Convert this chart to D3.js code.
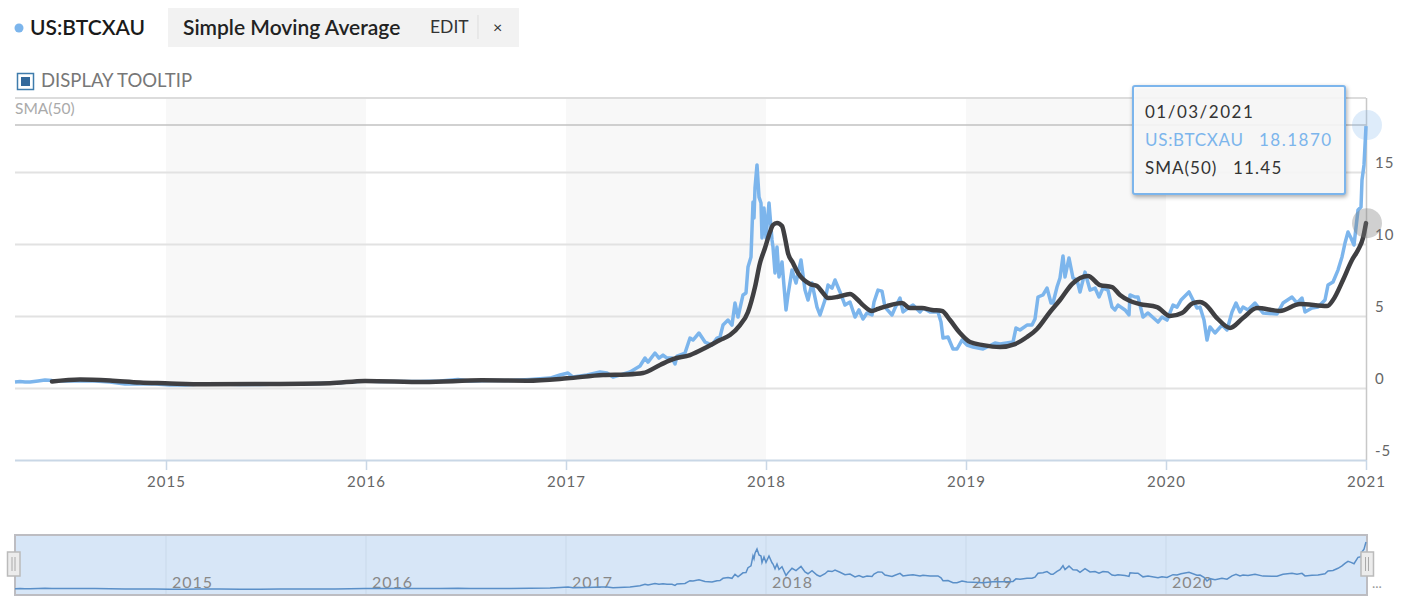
<!DOCTYPE html>
<html>
<head>
<meta charset="utf-8">
<script src="https://cdn.jsdelivr.net/npm/d3@7"></script>
<style>
  html, body { margin: 0; background: #fff; }
  svg { display: block; font-family: Lato, sans-serif; }
</style>
</head>
<body>
<div id="chart"></div>
<script>
// values, x is a decimal year
const priceYears = [2014.245,2014.27,2014.295,2014.32,2014.36,2014.395,2014.43,2014.47,2014.57,2014.645,2014.72,2014.795,2014.87,2014.945,2015.02,2015.095,2015.17,2015.27,2015.37,2015.47,2015.57,2015.67,2015.77,2015.845,2015.92,2015.995,2016.07,2016.17,2016.27,2016.37,2016.46,2016.52,2016.62,2016.72,2016.82,2016.92,2016.97,2017.01,2017.035,2017.105,2017.17,2017.205,2017.235,2017.32,2017.37,2017.395,2017.41,2017.445,2017.465,2017.485,2017.505,2017.53,2017.545,2017.555,2017.595,2017.62,2017.635,2017.665,2017.695,2017.73,2017.755,2017.77,2017.785,2017.81,2017.83,2017.845,2017.86,2017.885,2017.9,2017.91,2017.925,2017.935,2017.94,2017.945,2017.955,2017.965,2017.975,2017.98,2017.99,2018.0,2018.015,2018.03,2018.035,2018.045,2018.055,2018.065,2018.08,2018.1,2018.11,2018.13,2018.15,2018.175,2018.195,2018.21,2018.23,2018.255,2018.27,2018.295,2018.31,2018.33,2018.345,2018.37,2018.395,2018.42,2018.445,2018.465,2018.485,2018.505,2018.53,2018.54,2018.56,2018.58,2018.595,2018.63,2018.645,2018.67,2018.685,2018.71,2018.735,2018.77,2018.785,2018.82,2018.86,2018.875,2018.885,2018.91,2018.935,2018.955,2018.98,2019.005,2019.035,2019.085,2019.145,2019.17,2019.235,2019.25,2019.27,2019.305,2019.33,2019.345,2019.36,2019.385,2019.405,2019.425,2019.435,2019.455,2019.47,2019.485,2019.495,2019.515,2019.535,2019.555,2019.57,2019.595,2019.62,2019.645,2019.665,2019.685,2019.71,2019.73,2019.745,2019.76,2019.795,2019.815,2019.82,2019.845,2019.86,2019.885,2019.91,2019.96,2019.98,2020.005,2020.035,2020.055,2020.075,2020.115,2020.155,2020.17,2020.19,2020.205,2020.22,2020.245,2020.28,2020.305,2020.33,2020.35,2020.37,2020.385,2020.41,2020.445,2020.485,2020.555,2020.585,2020.63,2020.655,2020.68,2020.695,2020.73,2020.76,2020.795,2020.81,2020.835,2020.86,2020.88,2020.895,2020.91,2020.925,2020.94,2020.96,2020.975,2020.98,2020.99,2021.0];
const priceValues = [.42,.45,.42,.42,.49,.56,.52,.49,.49,.49,.42,.28,.28,.28,.21,.21,.28,.28,.24,.24,.28,.28,.31,.35,.42,.49,.45,.45,.45,.49,.59,.49,.52,.52,.59,.69,.9,1.04,.76,.9,1.11,1.04,.76,1.11,1.53,2.08,1.8,2.43,2.08,2.29,2.08,2.08,1.67,2.22,2.43,3.47,3.33,3.82,3.19,2.98,3.47,3.54,4.37,4.72,4.37,5.9,4.93,6.46,6.6,8.4,9.1,12.92,11.81,13.89,15.49,13.26,12.85,10.42,12.5,10.42,12.85,10.28,9.79,7.99,9.79,7.71,8.75,5.42,6.46,8.19,7.29,8.89,6.8,6.11,7.29,5.62,5.07,6.11,7.15,6.94,7.5,6.67,5.76,5.97,4.93,5.42,4.79,5.21,5.07,5.97,6.8,6.73,5.62,5.07,5.55,6.25,5.28,5.55,5.76,5.28,5.55,5.28,5.28,4.58,3.47,3.54,2.71,2.71,3.33,2.98,2.85,2.71,3.12,3.05,3.19,4.17,4.03,4.37,4.37,4.79,6.32,6.46,6.94,5.9,5.9,7.01,7.64,9.17,7.71,9.03,7.64,7.5,6.67,8.05,6.8,6.94,6.32,6.94,6.8,5.62,5.42,5.76,5.42,5.07,6.46,6.32,6.32,4.93,5.21,4.58,4.93,4.72,5.76,5.62,6.11,6.67,5.55,5.62,4.72,3.33,4.24,3.82,4.37,4.03,5.28,5.9,5.28,5.62,5.42,5.9,5.21,5.14,5.9,6.32,5.9,6.25,5.28,5.55,5.62,6.11,7.15,7.36,8.19,9.1,10.07,10.83,10.42,9.93,12.36,12.57,14.44,15.49,18.19];

const smaYears = [2014.43,2014.57,2014.72,2014.87,2014.995,2015.195,2015.51,2015.82,2015.995,2016.29,2016.58,2016.805,2017.005,2017.185,2017.305,2017.385,2017.47,2017.535,2017.62,2017.705,2017.77,2017.82,2017.87,2017.91,2017.945,2017.97,2017.995,2018.02,2018.035,2018.055,2018.08,2018.095,2018.11,2018.135,2018.16,2018.22,2018.255,2018.285,2018.31,2018.355,2018.42,2018.46,2018.485,2018.53,2018.56,2018.605,2018.68,2018.72,2018.78,2018.83,2018.88,2018.92,2018.97,2019.02,2019.085,2019.17,2019.245,2019.305,2019.355,2019.42,2019.47,2019.53,2019.61,2019.67,2019.73,2019.77,2019.82,2019.87,2019.955,2020.02,2020.08,2020.135,2020.17,2020.195,2020.255,2020.32,2020.385,2020.455,2020.57,2020.67,2020.805,2020.835,2020.885,2020.93,2020.96,2020.985,2021.0];
const smaValues = [.45,.59,.52,.38,.33,.26,.28,.33,.49,.42,.53,.51,.67,.9,.94,1.04,1.6,2.01,2.29,2.85,3.33,3.68,4.37,5.28,7.01,8.68,9.72,10.83,11.32,11.46,11.25,10.42,9.37,8.68,7.99,7.22,7.08,6.6,6.25,6.32,6.53,6.11,5.76,5.35,5.49,5.69,5.9,5.55,5.55,5.42,5.35,4.72,3.82,3.19,2.98,2.85,3.05,3.54,4.1,5.28,6.11,7.22,7.78,7.15,7.01,6.46,6.04,5.83,5.62,5,5.21,5.9,5.97,5.83,4.86,4.17,4.86,5.55,5.35,5.83,5.69,6.11,7.5,8.89,9.58,10.42,11.45];

const yearTicks = [2015, 2016, 2017, 2018, 2019, 2020, 2021];
const navYears = [2015, 2016, 2017, 2018, 2019, 2020];
const shadedYears = [2015, 2017, 2019];
const valueTicks = [-5, 0, 5, 10, 15];

const symbol = "US:BTCXAU";
const studyName = "Simple Moving Average";
const studyLabel = "SMA(50)";
const tipDate = "01/03/2021";
const tipPrice = "18.1870";
const tipSma = "11.45";
const lastPrice = 18.19;
const lastSma = 11.45;

const blue = "#7cb5ec";
const dark = "#3f3f42";

const width = 1408;
const height = 616;

const svg = d3.select("#chart").append("svg")
  .attr("width", width)
  .attr("height", height);

// scales
const x = d3.scaleLinear().domain([2014.245, 2021]).range([15, 1366]);
const y = d3.scaleLinear().domain([-5, 20.14]).range([460, 98]);
const yNav = d3.scaleLinear().domain([0, 18.19]).range([589.8, 542]);

const plotTop = y.range()[1];
const plotBottom = y.range()[0];

// header
svg.append("circle").attr("cx", 19).attr("cy", 28).attr("r", 4.5).attr("fill", blue);
svg.append("text").attr("x", 30).attr("y", 35)
  .attr("font-size", 21).attr("font-weight", 600).attr("fill", "#1a1a1a").text(symbol);

svg.append("rect").attr("x", 168).attr("y", 8).attr("width", 351).attr("height", 39).attr("fill", "#f2f2f2");
svg.append("text").attr("x", 183).attr("y", 35)
  .attr("font-size", 21).attr("font-weight", 600).attr("fill", "#222").text(studyName);
svg.append("text").attr("x", 430).attr("y", 33).attr("font-size", 17.5).attr("fill", "#333").text("EDIT");
svg.append("line").attr("x1", 478).attr("x2", 478).attr("y1", 15).attr("y2", 39).attr("stroke", "#ddd");
svg.append("text").attr("x", 493).attr("y", 33).attr("font-size", 16).attr("fill", "#333").text("×");

// display tooltip checkbox
svg.append("rect").attr("x", 17.5).attr("y", 73.5).attr("width", 16).attr("height", 16)
  .attr("fill", "#fff").attr("stroke", "#3f7cac").attr("stroke-width", 1.5);
svg.append("rect").attr("x", 21).attr("y", 77).attr("width", 9).attr("height", 9).attr("fill", "#33699b");
svg.append("text").attr("x", 41).attr("y", 87).attr("font-size", 18.5).attr("fill", "#777").text("DISPLAY TOOLTIP");

// alternating year bands
svg.append("g").selectAll("rect")
  .data(shadedYears)
  .join("rect")
  .attr("x", d => x(d))
  .attr("width", d => x(d + 1) - x(d))
  .attr("y", plotTop)
  .attr("height", plotBottom - plotTop)
  .attr("fill", "#f8f8f8");

// horizontal grid + value labels
const yAxis = svg.append("g")
  .attr("transform", `translate(${x.range()[1]},0)`)
  .call(d3.axisRight(y).tickValues(valueTicks).tickSize(0).tickFormat(d => d));
yAxis.select(".domain").remove();
yAxis.selectAll(".tick line")
  .attr("x1", x.range()[0] - x.range()[1])
  .attr("x2", 0)
  .attr("stroke", d => d === -5 ? "#c9d7e6" : "#e2e2e2")
  .attr("stroke-width", 2);
yAxis.selectAll(".tick text")
  .attr("x", 9)
  .attr("y", -9)
  .attr("dy", "0.32em")
  .attr("font-family", "Lato, sans-serif")
  .attr("font-size", 15)
  .attr("letter-spacing", 1)
  .attr("fill", "#666");

// top border, study label, crosshair
svg.append("line").attr("x1", 15).attr("x2", 1366).attr("y1", plotTop).attr("y2", plotTop)
  .attr("stroke", "#dcdcdc").attr("stroke-width", 2);
svg.append("text").attr("x", 15).attr("y", 114).attr("font-size", 15.5).attr("fill", "#aaa").text(studyLabel);
svg.append("line").attr("x1", 15).attr("x2", 1366).attr("y1", y(lastPrice) - 1).attr("y2", y(lastPrice) - 1)
  .attr("stroke", "#c2c2c2").attr("stroke-width", 1.5);
svg.append("line").attr("x1", 1366.5).attr("x2", 1366.5).attr("y1", plotTop).attr("y2", plotBottom)
  .attr("stroke", "#c8c8c8").attr("stroke-width", 1.5);

// x axis
const xAxis = svg.append("g")
  .attr("transform", `translate(0,${plotBottom})`)
  .call(d3.axisBottom(x).tickValues(yearTicks).tickSize(10).tickPadding(6).tickFormat(d => d));
xAxis.select(".domain").remove();
xAxis.selectAll(".tick line").attr("stroke", "#c9d7e6").attr("stroke-width", 1.5);
xAxis.selectAll(".tick text")
  .attr("font-family", "Lato, sans-serif")
  .attr("font-size", 15)
  .attr("letter-spacing", 1)
  .attr("fill", "#666");

// series
const priceRows = d3.zip(priceYears, priceValues);
const smaRows = d3.zip(smaYears, smaValues);

const priceLine = d3.line().x(d => x(d[0])).y(d => y(d[1]));
const smaLine = d3.line().x(d => x(d[0])).y(d => y(d[1])).curve(d3.curveMonotoneX);
const navLine = d3.line().x(d => x(d[0])).y(d => yNav(d[1]));

svg.append("path").datum(priceRows)
  .attr("fill", "none").attr("stroke", blue).attr("stroke-width", 3.5)
  .attr("stroke-linejoin", "round").attr("d", priceLine);
svg.append("path").datum(smaRows)
  .attr("fill", "none").attr("stroke", dark).attr("stroke-width", 4.5)
  .attr("stroke-linecap", "round").attr("stroke-linejoin", "round").attr("d", smaLine);

// hover markers
svg.append("circle").attr("cx", 1367).attr("cy", y(lastPrice) - 1).attr("r", 15)
  .attr("fill", blue).attr("fill-opacity", 0.25);
svg.append("circle").attr("cx", 1367).attr("cy", y(lastSma)).attr("r", 15)
  .attr("fill", "#777").attr("fill-opacity", 0.35);

// tooltip
const tip = svg.append("g");
tip.append("rect").attr("x", 1133).attr("y", 86).attr("width", 212).attr("height", 108).attr("rx", 2)
  .attr("fill", "#fff").attr("fill-opacity", 0.88)
  .attr("stroke", blue).attr("stroke-width", 2)
  .style("filter", "drop-shadow(1px 2px 2px rgba(0,0,0,0.35))");
const tipText = (px, py, color, s, spacing) => tip.append("text")
  .attr("x", px).attr("y", py).attr("font-size", 17).attr("letter-spacing", spacing)
  .attr("fill", color).text(s);
tipText(1145, 118, "#333", tipDate, 1.5);
tipText(1145, 146, blue, symbol, 0.7);
tipText(1259, 146, blue, tipPrice, 1.5);
tipText(1145, 174, "#333", studyLabel, 1);
tipText(1233, 174, "#333", tipSma, 1.2);

// navigator
const nav = svg.append("g");
nav.append("rect").attr("x", 15).attr("y", 535).attr("width", 1352).attr("height", 60)
  .attr("fill", "#d7e6f7").attr("stroke", "#bdbdc2").attr("stroke-width", 2);
nav.append("g").selectAll("line")
  .data(navYears)
  .join("line")
  .attr("x1", d => x(d)).attr("x2", d => x(d))
  .attr("y1", 536).attr("y2", 594)
  .attr("stroke", "#c9d9ea").attr("stroke-width", 1);
nav.append("g").selectAll("text")
  .data(navYears)
  .join("text")
  .attr("x", d => x(d) + 6)
  .attr("y", 588)
  .attr("font-size", 16)
  .attr("letter-spacing", 1)
  .attr("fill", "#888")
  .text(d => d);
nav.append("path").datum(priceRows)
  .attr("fill", "none").attr("stroke", "#5a8fc8").attr("stroke-width", 1.5).attr("d", navLine);

// navigator handles
[7.5, 1361].forEach(hx => {
  nav.append("rect").attr("x", hx).attr("y", 552).attr("width", 12.5).attr("height", 24)
    .attr("fill", "#ececec").attr("stroke", "#bbb").attr("stroke-width", 1.5);
  [hx + 4.5, hx + 7.5].forEach(lx => {
    nav.append("line").attr("x1", lx).attr("x2", lx).attr("y1", 557).attr("y2", 571)
      .attr("stroke", "#aaa");
  });
});
nav.append("text").attr("x", 1372).attr("y", 588).attr("font-size", 14).attr("fill", "#999").text("...");
</script>
</body>
</html>
